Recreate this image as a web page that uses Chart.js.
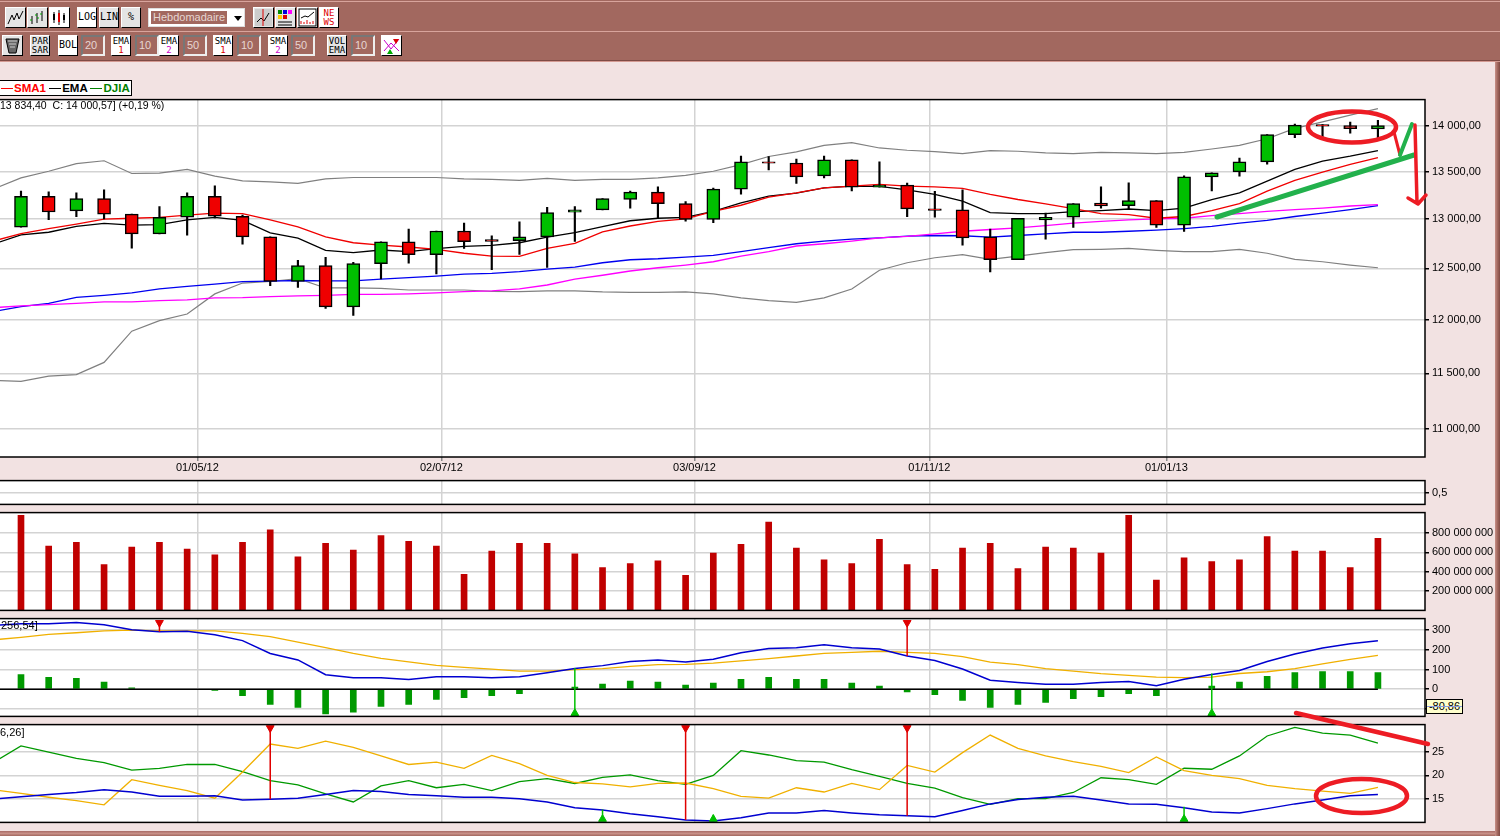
<!DOCTYPE html>
<html>
<head>
<meta charset="utf-8">
<title>DJIA hebdomadaire</title>
<script src="https://cdn.jsdelivr.net/npm/chart.js@4"></script>
<style>
html, body { margin: 0; padding: 0; background: #f2e2e2; overflow: hidden; }
body { width: 1500px; height: 836px; position: relative; font-family: "Liberation Sans", Arial, sans-serif; font-size: 11px; color: #000; }
canvas { position: absolute; left: 0; }
#bar { position: absolute; left: 0; top: 0; width: 1500px; height: 60px; background: #a2685f; border-bottom: 1px solid #7f4a44; box-shadow: 0 1px 0 #d49a92; }
#bar:before { content: ""; position: absolute; left: 0; right: 0; top: 1px; height: 1px; background: #d8a49c; }
#bar:after { content: ""; position: absolute; left: 0; right: 0; top: 31px; height: 1px; background: #d8a49c; }
.b { position: absolute; box-sizing: border-box; height: 21px; background: #e4e4e4; border: 1px solid; border-color: #fff #000 #000 #fff; text-align: center; font: 9px/9px "DejaVu Sans Mono", monospace; color: #000; padding-top: 1px; overflow: hidden; }
.b.w { background: #fff; }
.b.one { font-size: 10px; line-height: 17px; padding-top: 0; }
.b i { font-style: normal; display: block; }
.f { position: absolute; box-sizing: border-box; height: 21px; width: 24px; background: #a2685f; border: 2px solid; border-color: #777 #eee #eee #777; color: #e6d6d2; font: 11px/17px "Liberation Sans", sans-serif; padding-left: 2px; }
#legend { position: absolute; left: -1px; top: 80px; width: 133px; height: 16px; box-sizing: border-box; background: #fff; border: 1px solid #000; border-left: none; font: bold 11.5px/14px "Liberation Sans", sans-serif; white-space: nowrap; padding-left: 2px; }
#legend s { display: inline-block; width: 12px; height: 1px; vertical-align: 3px; margin-right: 1px; }
.t { position: absolute; white-space: pre; font: 11px/13px "Liberation Sans", sans-serif; z-index: 5; }
#tip { position: absolute; left: 1426px; top: 699px; width: 37px; height: 15px; box-sizing: border-box; background: #ffffcc; border: 1px solid #000; font: 11px/13px "Liberation Sans", sans-serif; text-align: center; z-index: 5; }
#tip:after { content: ""; position: absolute; left: 0; right: 0; top: 6px; height: 1px; background: #8c9ce0; }
#frame { position: absolute; left: 0; top: 831px; width: 1500px; height: 5px; background: linear-gradient(#a86c66, #c89088, #a2685f); }
#frameR { position: absolute; left: 1495px; top: 62px; width: 5px; height: 774px; background: linear-gradient(90deg, #c89088, #a2685f, #7f4a44); }
svg { position: absolute; left: 0; top: 0; z-index: 6; pointer-events: none; }
</style>
</head>
<body>
<div id="bar"></div>
<div id="frame"></div>
<div id="frameR"></div>
<div id="legend"><s style="background:#f00"></s><span style="color:#f00">SMA1</span> <s style="background:#000"></s>EMA <s style="background:#008000"></s><span style="color:#008000">DJIA</span></div>
<div class="t" style="left:0;top:99px;font-size:10.5px">13 834,40  C: 14 000,57] (+0,19 %)</div>
<div class="t" style="left:1px;top:619px">256,54]</div>
<div class="t" style="left:0;top:726px">6,26]</div>
<div id="tip">-80,86</div>

<canvas id="cMain" width="1500" height="389" style="top:90px"></canvas>
<canvas id="cBlank" width="1500" height="43" style="top:471px"></canvas>
<canvas id="cVol" width="1500" height="117" style="top:503px"></canvas>
<canvas id="cMacd" width="1500" height="117" style="top:609px"></canvas>
<canvas id="cAdx" width="1500" height="117" style="top:715px"></canvas>

<svg width="1500" height="836" fill="none" stroke-linecap="round" stroke-linejoin="round">
  <ellipse cx="1352" cy="127" rx="44" ry="15.5" stroke="#ed1c24" stroke-width="4.5"/>
  <path d="M1394 132 L1400 155" stroke="#ed1c24" stroke-width="3"/>
  <path d="M1400 155 L1412 124" stroke="#22b14c" stroke-width="4"/>
  <path d="M1217 217 L1414 155" stroke="#22b14c" stroke-width="5"/>
  <path d="M1415 125 L1417 203 M1408 198 L1418 204 L1426 195" stroke="#ed1c24" stroke-width="3.5"/>
  <path d="M1296 713 L1428 744" stroke="#ed1c24" stroke-width="4.5"/>
  <ellipse cx="1361.5" cy="796" rx="45.5" ry="17" stroke="#ed1c24" stroke-width="4.5"/>
</svg>

<script>
// weekly candles, index 0 is the first visible bar
const opens = [12917,13236,13084,13214,13051,12847,13018,13236,13029,12817,12372,12527,12123,12547,12767,12637,12877,12790,12777,12817,13070,13095,13205,13280,13160,12997,13312,13605,13592,13453,13625,13334,13355,13105,13095,12817,12587,12990,13018,13165,13138,13192,12937,13442,13497,13604,13901,14012,14002,13965];
const closes = [13236,13073,13214,13051,12847,13018,13236,13029,12817,12372,12527,12123,12547,12767,12637,12877,12767,12770,12817,13067,13095,13214,13280,13160,12997,13312,13604,13590,13442,13625,13334,13355,13105,13090,12807,12587,13007,13018,13160,13135,13192,12937,13442,13486,13604,13901,14007,13996,13968,14000.57];
const highs = [13293,13283,13272,13304,13051,13130,13272,13348,13040,12817,12580,12610,12560,12767,12897,12877,12957,12827,12970,13120,13130,13214,13293,13337,13181,13323,13668,13660,13635,13668,13625,13605,13377,13290,13304,12897,13007,13062,13160,13337,13380,13192,13453,13486,13646,13901,14018,14012,14040,14060];
const lows = [12917,12993,13025,13000,12703,12847,12833,13011,12743,12330,12311,12109,12041,12395,12553,12445,12700,12487,12640,12510,12770,13095,13112,13008,12977,12963,13258,13518,13373,13432,13293,13334,13025,13020,12733,12464,12587,12793,12913,13112,13105,12913,12873,13293,13449,13578,13869,13860,13918,13834.4];

// line series start one week before the first visible bar, so they run off the left edge
const sma1 = [12774,12851,12902,12948,12998,13008,13016,13040,13061,13055,12992,12918,12817,12757,12734,12714,12691,12651,12623,12620,12701,12751,12867,12928,12975,13002,13079,13143,13228,13273,13326,13344,13362,13344,13337,13320,13256,13203,13157,13108,13055,13045,13008,13026,13087,13161,13291,13405,13493,13576,13651];
const ema1 = [12744,12837,12864,12925,12955,12938,12942,12992,13016,12985,12857,12804,12681,12657,12684,12667,12697,12721,12731,12757,12814,12861,12922,12982,13008,13016,13079,13167,13238,13270,13326,13344,13341,13305,13256,13185,13066,13055,13055,13076,13087,13104,13087,13114,13203,13273,13397,13522,13611,13665,13727];
const ema2 = [12077,12126,12158,12216,12235,12258,12297,12322,12345,12370,12374,12380,12377,12377,12394,12409,12423,12442,12450,12467,12493,12513,12556,12586,12596,12613,12630,12667,12707,12747,12774,12794,12807,12824,12831,12828,12814,12831,12847,12864,12864,12874,12885,12902,12925,12958,12985,13026,13061,13097,13139];
const sma2 = [12116,12132,12145,12158,12171,12171,12184,12191,12210,12213,12222,12229,12235,12245,12245,12249,12258,12271,12279,12297,12336,12394,12432,12474,12506,12533,12566,12623,12667,12724,12747,12774,12807,12821,12847,12874,12892,12908,12932,12958,12975,12992,13002,13008,13034,13055,13079,13097,13114,13135,13150];
const bolUp = [13312,13432,13503,13584,13616,13479,13482,13522,13450,13400,13390,13373,13422,13436,13436,13436,13436,13422,13415,13405,13426,13405,13415,13415,13432,13458,13503,13575,13662,13712,13784,13813,13755,13730,13716,13694,13727,13719,13701,13694,13708,13701,13694,13708,13744,13784,13856,13971,14044,14118,14192];
const bolLow = [11435,11427,11475,11488,11600,11891,11991,12055,12249,12355,12370,12399,12307,12307,12303,12287,12287,12287,12274,12271,12278,12278,12268,12264,12264,12268,12249,12210,12184,12167,12210,12297,12481,12556,12606,12638,12590,12623,12657,12687,12691,12701,12681,12667,12667,12691,12651,12590,12566,12533,12506];

const volumes = [983,663,703,473,653,703,633,573,703,833,553,693,623,773,713,663,373,613,693,693,583,443,483,513,363,593,683,913,643,523,483,733,473,423,643,693,433,653,643,593,983,313,543,503,523,763,613,613,443,743].map(v => v * 1000000);

const macdLine = [325,333,333,339,328,302,292,295,277,247,182,149,74,59,59,49,64,64,59,64,84,105,120,141,148,138,152,185,207,211,226,211,205,169,146,103,46,34,25,26,34,39,18,51,75,95,141,179,210,231,246];
const macdSignal = [251,264,279,287,297,300,297,297,297,284,267,239,211,182,157,139,121,111,102,92,92,100,105,116,125,126,133,144,156,169,182,187,193,187,182,166,138,125,105,92,79,70,62,59,62,80,89,105,129,152,172];
const macdHist = [75,61,56,36,7,0,0,-6,-33,-77,-92,-126,-116,-87,-77,-52,-43,-33,-23,0,11,26,41,36,21,31,51,61,51,51,31,16,-13,-28,-57,-92,-77,-67,-48,-38,-23,-33,0,16,36,66,85,90,90,85];

const adxLine = [22.7,26.2,24.9,23.6,22.7,21.1,21.5,22.3,22.3,20.8,18.9,18,16.1,14.4,17.8,18.9,17.4,18.1,16.8,18.7,19.3,18.3,19.6,20.1,18.9,18.1,20,25.2,24.3,23.1,22.8,21.2,19.8,18.3,17.3,15.3,13.9,15.1,15.1,16.4,19.5,19.1,18.1,21.5,21.3,24.1,28.3,30.1,28.9,28.5,26.8];
const diPlus = [17,16.2,15.4,14.7,13.8,19.1,17.9,16.8,15.2,20.7,26.6,25.7,27.2,25.9,24.1,22.3,22.8,21.5,24.2,22.5,20,18.5,18.2,17.6,18.3,18.4,17.2,15.6,15.2,17.4,16.5,18.3,17,22.1,20.7,24.8,28.5,25.7,24.1,22.9,21.9,20.6,23.9,21,20,19.3,17.9,17.2,16.7,16.2,17.5];
const diMinus = [15,15.5,16,16.4,17,16.5,15.6,15.6,15.7,14.8,15,15.2,16,16.8,16.6,16,15.7,15.4,15.4,15.1,14.4,13.2,12.7,11.9,11.3,10.6,10.4,11.1,12.1,12.1,12.6,12.1,11.7,11.5,11.3,12.6,14,14.9,15.4,15.6,14.8,14,13.9,13.2,12.3,12.1,13,14,14.8,15.7,16];

// buy and sell markers of the two oscillators
const macdSellWeeks = [5, 32];
const macdSellLevels = [292, 169];
const macdBuyWeeks = [20, 43];
const macdBuyLevels = [108, 80];
const adxSellWeeks = [9, 24, 32];
const adxSellLevels = [15, 10.6, 11.5];
const adxBuyWeeks = [21, 25, 42];
const adxBuyLevels = [12.8, 11.7, 13.4];

// axes
const dateTicks = [6.37, 15.18, 24.32, 32.8, 41.36];
const dateLabels = ['01/05/12', '02/07/12', '03/09/12', '01/11/12', '01/01/13'];
const priceTicks = [11000, 11500, 12000, 12500, 13000, 13500, 14000];
const priceLabels = ['11 000,00', '11 500,00', '12 000,00', '12 500,00', '13 000,00', '13 500,00', '14 000,00'];
const volTicks = [200000000, 400000000, 600000000, 800000000];
const volLabels = ['200 000 000', '400 000 000', '600 000 000', '800 000 000'];
const macdTicks = [-100, 0, 100, 200, 300];
const macdLabels = ['', '0', '100', '200', '300'];
const adxTicks = [15, 20, 25];
const adxLabels = ['15', '20', '25'];

const font = { family: 'Liberation Sans', size: 11 };
const gridGrey = '#d3d3d3';

const panelFrame = {
  id: 'panelFrame',
  beforeDraw(chart) {
    const a = chart.chartArea;
    chart.ctx.fillStyle = '#fff';
    chart.ctx.fillRect(a.left, a.top, a.right - a.left, a.bottom - a.top);
  },
  afterDraw(chart) {
    const a = chart.chartArea;
    chart.ctx.strokeStyle = '#000';
    chart.ctx.lineWidth = 1.5;
    chart.ctx.strokeRect(a.left - 2, a.top, a.right - a.left + 2, a.bottom - a.top);
  }
};

function xScale(showLabels) {
  return {
    type: 'linear',
    min: -0.758,
    max: 50.7,
    offset: false,
    afterBuildTicks(s) { s.ticks = dateTicks.map(v => ({ value: v })); },
    afterFit(s) { s.height = showLabels ? 21 : 0; },
    border: { display: false },
    grid: { offset: false, color: gridGrey, lineWidth: 1.5, drawTicks: showLabels, tickLength: 4, tickColor: '#888' },
    ticks: {
      display: showLabels, autoSkip: false, maxRotation: 0, padding: 0, font, color: '#000',
      callback: (v, i) => dateLabels[i]
    }
  };
}

function yScale(type, min, max, tickVals, tickLabels) {
  return {
    type, min, max,
    position: 'right',
    afterBuildTicks(s) { s.ticks = tickVals.map(v => ({ value: v })); },
    afterFit(s) { s.width = 75; },
    border: { display: false },
    grid: { color: gridGrey, lineWidth: 1.5, tickLength: 4, tickColor: '#000' },
    ticks: {
      autoSkip: false, padding: 3, font, color: '#000',
      callback: (v, i) => tickLabels[i]
    }
  };
}

function baseOptions(x, y, bottomPad) {
  return {
    responsive: false,
    animation: false,
    events: [],
    layout: { autoPadding: false, padding: { top: 8, bottom: bottomPad, left: 0, right: 0 } },
    plugins: { legend: { display: false }, tooltip: { enabled: false } },
    scales: { x, y }
  };
}

// series are one week longer than the bars, first value sits at week -1
const linePoints = arr => arr.map((v, k) => ({ x: k - 1, y: v }));
const barPoints = arr => arr.map((v, k) => ({ x: k, y: v }));

function lineSet(arr, color, width, order) {
  return { type: 'line', data: linePoints(arr), borderColor: color, borderWidth: width, pointRadius: 0, tension: 0, order };
}

function signalSets(weeks, levels, edge, color, flip) {
  const sets = [];
  weeks.forEach((w, k) => {
    sets.push({ type: 'line', data: [{ x: w, y: edge }, { x: w, y: levels[k] }], borderColor: color, borderWidth: 1.5, pointRadius: 0, order: 0 });
  });
  sets.push({
    type: 'line', showLine: false, data: weeks.map(w => ({ x: w, y: edge })),
    pointStyle: 'triangle', pointRadius: 4.5, pointRotation: flip ? 180 : 0,
    pointBackgroundColor: color, pointBorderColor: color, order: 0
  });
  return sets;
}

new Chart(document.getElementById('cMain'), {
  type: 'line',
  plugins: [panelFrame],
  data: {
    datasets: [
      {
        type: 'bar', grouped: false, order: 1, barThickness: 13, borderWidth: 1.5, borderColor: '#000', borderSkipped: false,
        backgroundColor: closes.map((c, k) => c >= opens[k] ? '#00bf00' : '#ef0000'),
        data: closes.map((c, k) => ({ x: k, y: [opens[k], c] }))
      },
      {
        type: 'bar', grouped: false, order: 2, barThickness: 1.5, backgroundColor: '#000',
        data: highs.map((h, k) => ({ x: k, y: [lows[k], h] }))
      },
      lineSet(sma1, '#f00000', 1.3, 3),
      lineSet(ema1, '#000000', 1.3, 4),
      lineSet(sma2, '#ff00ff', 1.3, 5),
      lineSet(ema2, '#0000f0', 1.3, 6),
      lineSet(bolUp, '#808080', 1.2, 7),
      lineSet(bolLow, '#808080', 1.2, 8)
    ]
  },
  options: baseOptions(xScale(true), yScale('logarithmic', 10760, 14294, priceTicks, priceLabels), 1)
});

new Chart(document.getElementById('cBlank'), {
  type: 'line',
  plugins: [panelFrame],
  data: { datasets: [] },
  options: baseOptions(xScale(false), yScale('linear', 0, 1, [0.5], ['0,5']), 8)
});

new Chart(document.getElementById('cVol'), {
  type: 'line',
  plugins: [panelFrame],
  data: {
    datasets: [{ type: 'bar', grouped: false, barThickness: 6, backgroundColor: '#c00000', data: barPoints(volumes) }]
  },
  options: baseOptions(xScale(false), yScale('linear', 0, 1010000000, volTicks, volLabels), 8)
});

new Chart(document.getElementById('cMacd'), {
  type: 'line',
  plugins: [panelFrame],
  data: {
    datasets: [
      { type: 'line', data: [{ x: -1, y: 0 }, { x: 49, y: 0 }], borderColor: '#000', borderWidth: 1.5, pointRadius: 0, order: 3 },
      { type: 'bar', grouped: false, barThickness: 6, backgroundColor: '#009900', data: barPoints(macdHist), order: 4 },
      lineSet(macdSignal, '#f0b000', 1.3, 2),
      lineSet(macdLine, '#0000d0', 1.5, 1),
      ...signalSets(macdSellWeeks, macdSellLevels, 338, '#e00000', true),
      ...signalSets(macdBuyWeeks, macdBuyLevels, -122, '#00c000', false)
    ]
  },
  options: baseOptions(xScale(false), yScale('linear', -138, 359, macdTicks, macdLabels), 8)
});

new Chart(document.getElementById('cAdx'), {
  type: 'line',
  plugins: [panelFrame],
  data: {
    datasets: [
      lineSet(adxLine, '#009900', 1.3, 3),
      lineSet(diPlus, '#f0b000', 1.3, 2),
      lineSet(diMinus, '#0000d0', 1.5, 1),
      ...signalSets(adxSellWeeks, adxSellLevels, 30, '#e00000', true),
      ...signalSets(adxBuyWeeks, adxBuyLevels, 10.8, '#00c000', false)
    ]
  },
  options: baseOptions(xScale(false), yScale('linear', 10.1, 30.7, adxTicks, adxLabels), 8)
});

// toolbar
const bar = document.getElementById('bar');
function btn(x, y, w, lines, cls, color) {
  const d = document.createElement('div');
  d.className = 'b ' + (cls || '');
  d.style.left = x + 'px';
  d.style.top = y + 'px';
  d.style.width = w + 'px';
  lines.forEach((t, k) => {
    const s = document.createElement('i');
    s.textContent = t;
    if (k === 1 && color) s.style.color = color;
    d.appendChild(s);
  });
  bar.appendChild(d);
  return d;
}
function field(x, text) {
  const d = document.createElement('div');
  d.className = 'f';
  d.style.left = x + 'px';
  d.style.top = '35px';
  d.textContent = text;
  bar.appendChild(d);
}
function icon(x, y, svg, cls) {
  const d = btn(x, y, 21, [], cls);
  d.style.padding = '0';
  d.innerHTML = '<svg style="position:static" width="19" height="19" viewBox="0 0 19 19" fill="none">' + svg + '</svg>';
}
icon(5, 7, '<path d="M2 16L6 7l2 5 3-7 2 6 4-8" stroke="#000"/>');
icon(27, 7, '<path d="M4 8v8M9 5v10M14 3v10" stroke="#000"/><path d="M2 12h2M9 10h2M7 7h2M12 6h2" stroke="#0a0"/>');
icon(49, 7, '<path d="M4 4v11M9 2v15M14 5v10" stroke="#000"/><rect x="3" y="6" width="2" height="6" fill="#000"/><rect x="8" y="5" width="2" height="9" fill="#d00"/><rect x="13" y="7" width="2" height="5" fill="#000"/>', 'w');
btn(77, 7, 20, ['LOG'], 'one w');
btn(99, 7, 20, ['LIN'], 'one');
btn(121, 7, 20, ['%'], 'one');
const sel = document.createElement('div');
sel.style.cssText = 'position:absolute;left:148px;top:8px;width:97px;height:19px;box-sizing:border-box;background:#fff;border:1px solid #ddd;';
sel.innerHTML = '<div style="position:absolute;left:2px;top:2px;width:76px;height:13px;background:#a2685f;color:#e6d6d2;font:11px/13px Liberation Sans,sans-serif;padding-left:2px;box-sizing:border-box">Hebdomadaire</div><div style="position:absolute;left:85px;top:7px;border:4px solid transparent;border-top:5px solid #000"></div>';
bar.appendChild(sel);
icon(253, 7, '<rect x="1" y="1" width="17" height="17" fill="#ccc"/><path d="M3 14l4-4 3 3 5-8" stroke="#000"/><path d="M9 1v17" stroke="#d00"/>');
icon(275, 7, '<rect x="2" y="2" width="4" height="4" fill="#080"/><rect x="7" y="2" width="4" height="4" fill="#00d"/><rect x="12" y="2" width="4" height="4" fill="#f0f"/><rect x="2" y="7" width="4" height="4" fill="#fc0"/><rect x="7" y="7" width="4" height="4" fill="#d00"/><path d="M2 14h14M2 17h14" stroke="#000"/>');
icon(297, 7, '<rect x="1" y="1" width="17" height="17" fill="#fff" stroke="#000"/><path d="M3 10l4-2 3 1 6-5" stroke="#000"/><path d="M3 16v-3M6 16v-2M9 16v-4M12 16v-2M15 16v-3" stroke="#d00"/>', 'w');
const news = btn(319, 7, 20, ['NE', 'WS'], 'w', '#d00');
news.style.color = '#d00';
icon(2, 35, '<path d="M3 3h13l-3 14H6z" fill="#666" stroke="#000"/><path d="M5 5h9M6 8h7M7 11h5" stroke="#ccc"/>');
btn(30, 35, 20, ['PAR', 'SAR']);
btn(58, 35, 20, ['BOL'], 'one w');
field(81, '20');
btn(111, 35, 20, ['EMA', '1'], 'w', '#d00');
field(135, '10');
btn(159, 35, 20, ['EMA', '2'], 'w', '#c0c');
field(183, '50');
btn(213, 35, 20, ['SMA', '1'], 'w', '#d00');
field(237, '10');
btn(268, 35, 20, ['SMA', '2'], 'w', '#c0c');
field(291, '50');
btn(327, 35, 20, ['VOL', 'EMA']);
field(351, '10');
icon(381, 35, '<path d="M2 4l7 9 8-10M2 15l7-8 8 8" stroke="#c0c"/><path d="M11 3h6l-3 5z" fill="#d00"/><path d="M5 18h6l-3-5z" fill="#0a0"/>', 'w');
</script>
</body>
</html>
